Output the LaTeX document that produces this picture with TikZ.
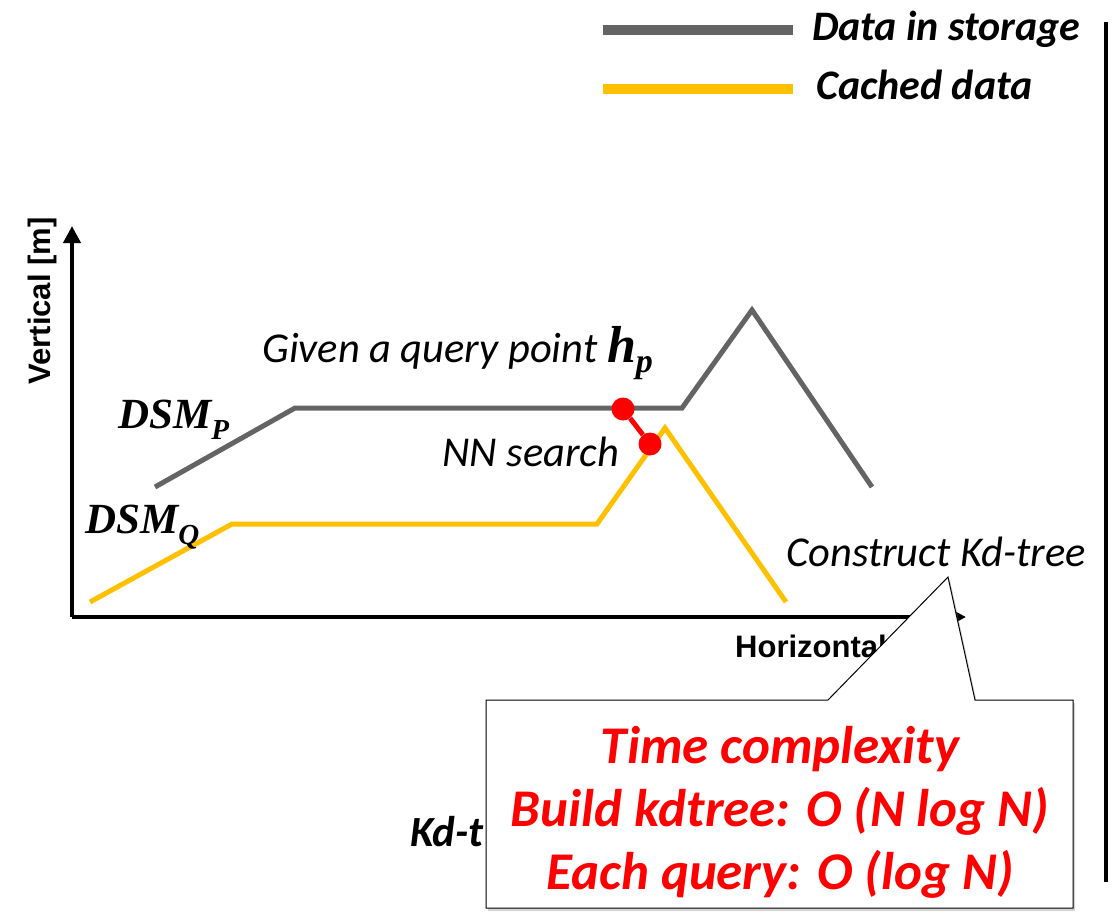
\documentclass[tikz,border=0pt]{standalone}
\usepackage{fontspec}
\setmainfont{Carlito}
\newfontfamily\arialf{Liberation Sans}
\newfontfamily\serf{Liberation Serif}
\usetikzlibrary{shadows,arrows.meta}
\definecolor{grayline}{RGB}{100,100,100}
\definecolor{goldline}{RGB}{255,192,0}
\definecolor{redc}{RGB}{255,0,0}
\begin{document}
\begin{tikzpicture}[x=1pt,y=-1pt,
  lbl/.style={anchor=base west, inner sep=0pt},
  legtxt/.style={lbl, font=\fontsize{42}{50}\selectfont\bfseries\itshape},
  ittxt/.style={lbl, font=\fontsize{42.5}{50}\selectfont\itshape},
  axtxt/.style={inner sep=0pt, font=\fontsize{31}{36}\selectfont\arialf\bfseries},
  dsmtxt/.style={lbl, font=\fontsize{43}{50}\selectfont\serf\bfseries\itshape},
  storage/.style={grayline, line width=5pt},
  cached/.style={goldline, line width=5pt},
  dot/.style={circle, fill=redc, minimum size=23pt, inner sep=0pt},
  axis/.style={line width=4pt, -{Triangle[width=17pt,length=17pt]}},
  callout/.style={draw=black, line width=1pt, fill=white, drop shadow={shadow xshift=2pt, shadow yshift=-3pt, opacity=0.35}},
  redtxt/.style={inner sep=0pt, align=center, text=redc, font=\fontsize{53}{63}\selectfont\bfseries\itshape}]
\useasboundingbox (0,0) rectangle (1114,916);

% legend
\draw[storage, line width=10pt] (603,30) -- (793,30);
\draw[cached, line width=10pt] (603,89) -- (793,89);
\node[legtxt] (leg1) at (812,40) {Data in storage};
\node[legtxt] (leg2) at (816,99) {Cached data};

% right separator
\draw[line width=4pt] (1106,22) -- (1106,882);

% axes
\coordinate (org) at (72,617);
\coordinate (ytop) at (72,226);
\coordinate (xend) at (966,617);
\draw[axis] (org) -- (ytop);
\draw[axis] (org) -- (xend);
\node[axtxt, rotate=90] (ylab) at (42,301) {Vertical [m]};
\node[axtxt, anchor=base west] (xlab) at (735,657) {Horizontal [m]};

% label partly hidden behind callout
\node[lbl, font=\fontsize{43}{46}\selectfont\bfseries\itshape] (kdt) at (410,846) {Kd-t};

% data lines
\draw[storage, line join=miter] (155,487) -- (295,408) -- (682,408) -- (752,310) -- (872,487);
\draw[cached, line join=miter] (90,602) -- (232,524) -- (597,524) -- (665,428) -- (786,602);

% labels
\node[dsmtxt] (dsmp) at (118,428) {DSM\raisebox{-0.26em}{\fontsize{29}{30}\selectfont P}};
\node[dsmtxt] (dsmq) at (85,533) {DSM\raisebox{-0.26em}{\fontsize{29}{30}\selectfont Q}};
\node[ittxt] (query) at (262,362) {Given a query point {\serf\bfseries\itshape\fontsize{52}{54}\selectfont h\raisebox{-0.2em}{\fontsize{34}{36}\selectfont p}}};
\node[ittxt] (nn) at (442,466) {NN search};
\node[ittxt] (kd) at (786,566) {Construct Kd-tree};

% NN pair
\node[dot] (p1) at (623,409) {};
\node[dot] (p2) at (650,444) {};
\draw[redc, line width=5pt] (p1) -- (p2);

% callout
\draw[callout] (486,700) -- (828,700) -- (948,577) -- (975,700) -- (1073,700) -- (1073,908) -- (486,908) -- cycle;
\node[redtxt] (tc) at (780,812) {Time complexity\\Build kdtree: O (N log N)\\Each query: O (log N)};
\end{tikzpicture}
\end{document}
